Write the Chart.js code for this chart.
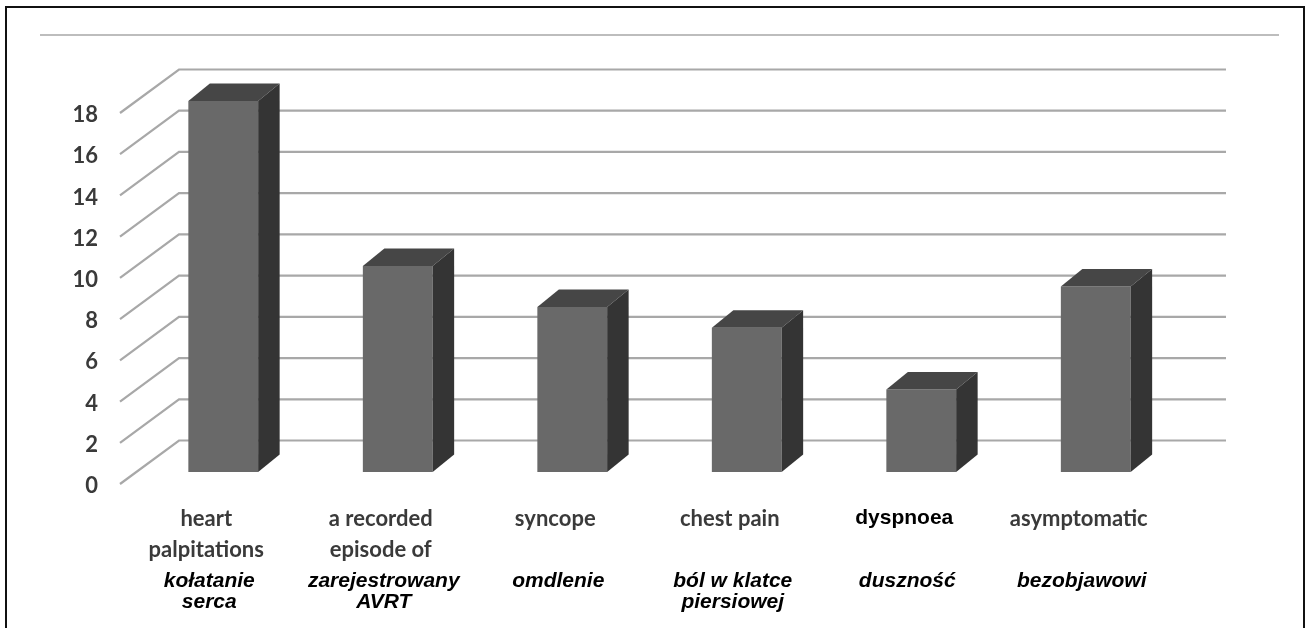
<!DOCTYPE html>
<html>
<head>
<meta charset="utf-8">
<script src="https://cdn.jsdelivr.net/npm/chart.js@4.4.1/dist/chart.umd.min.js"></script>
<style>
    html, body { margin: 0; padding: 0; background: #fff; }
    #wrap { width: 1310px; height: 628px; }
</style>
</head>
<body>
<div id="wrap"><canvas id="symptomsChart" width="1310" height="628"></canvas></div>
<script>
// Objawy pacjentów - wykres słupkowy 3D

const categoriesEn = [['heart', 'palpitations'], ['a recorded', 'episode of'], 'syncope', 'chest pain', 'dyspnoea', 'asymptomatic'];
const categoriesPl = [['kołatanie', 'serca'], ['zarejestrowany', 'AVRT'], 'omdlenie', ['ból w klatce', 'piersiowej'], 'duszność', 'bezobjawowi'];
const patientCounts = [18, 10, 8, 7, 4, 9];
const yTicks = [0, 2, 4, 6, 8, 10, 12, 14, 16, 18];

// przesunięcia perspektywy (px)
const WALL_DX = 43, WALL_DY = -31.5;   // tylna ściana
const FRONT_DX = -16, FRONT_DY = 12;   // przednia krawędź osi Y
const BAR_DX = 21.5, BAR_DY = -17.5;   // głębokość słupka

const wallPlugin = {
    id: 'wall3d',
    beforeDraw: function (chart) {
        const { ctx, width, height } = chart;
        ctx.save();
        ctx.fillStyle = '#ffffff';
        ctx.fillRect(0, 0, width, height);

        // ramka
        ctx.strokeStyle = '#111111';
        ctx.lineWidth = 2;
        ctx.beginPath();
        ctx.moveTo(6, height + 5);
        ctx.lineTo(6, 7);
        ctx.lineTo(1304, 7);
        ctx.lineTo(1304, height + 5);
        ctx.stroke();

        // górna linia
        ctx.strokeStyle = '#bdbdbd';
        ctx.beginPath();
        ctx.moveTo(40, 35);
        ctx.lineTo(1279, 35);
        ctx.stroke();
        ctx.restore();
    },
    beforeDatasetsDraw: function (chart) {
        const { ctx, chartArea, scales: { y } } = chart;
        ctx.save();
        ctx.strokeStyle = '#a8a8a8';
        ctx.lineWidth = 2.2;
        y.ticks.forEach(function (t) {
            const py = y.getPixelForValue(t.value);
            ctx.beginPath();
            ctx.moveTo(chartArea.left + FRONT_DX, py + FRONT_DY);
            ctx.lineTo(chartArea.left + WALL_DX, py + WALL_DY);
            ctx.lineTo(chartArea.right + WALL_DX, py + WALL_DY);
            ctx.stroke();
        });
        ctx.restore();
    },
    afterDatasetsDraw: function (chart) {
        const { ctx } = chart;
        const meta = chart.getDatasetMeta(0);
        ctx.save();
        meta.data.forEach(function (bar) {
            const { x, y, base, width } = bar.getProps(['x', 'y', 'base', 'width'], true);
            const l = x - width / 2, r = x + width / 2;

            // góra
            ctx.fillStyle = '#464646';
            ctx.beginPath();
            ctx.moveTo(l, y);
            ctx.lineTo(l + BAR_DX, y + BAR_DY);
            ctx.lineTo(r + BAR_DX, y + BAR_DY);
            ctx.lineTo(r, y);
            ctx.closePath();
            ctx.fill();

            // bok
            ctx.fillStyle = '#343434';
            ctx.beginPath();
            ctx.moveTo(r, y);
            ctx.lineTo(r + BAR_DX, y + BAR_DY);
            ctx.lineTo(r + BAR_DX, base + BAR_DY);
            ctx.lineTo(r, base);
            ctx.closePath();
            ctx.fill();
        });
        ctx.restore();
    }
};

const canvas = document.getElementById('symptomsChart');

new Chart(canvas, {
    type: 'bar',
    data: {
        labels: categoriesEn,
        datasets: [{
            data: patientCounts,
            backgroundColor: '#696969',
            borderWidth: 0,
            barPercentage: 0.4,
            categoryPercentage: 1
        }]
    },
    options: {
        responsive: false,
        animation: false,
        layout: { padding: { left: 0, right: 127, top: 101, bottom: 0 } },
        plugins: {
            legend: { display: false },
            tooltip: { enabled: false }
        },
        scales: {
            x: {
                position: 'bottom',
                weight: 0,
                grid: { display: false },
                border: { display: false },
                ticks: {
                    padding: 23,
                    labelOffset: -17,
                    maxRotation: 0,
                    autoSkip: false,
                    color: function (c) { return c.index === 4 ? '#000000' : '#3a3a3a'; },
                    font: function (c) {
                        return c.index === 4
                            ? { family: 'Liberation Sans', size: 21, weight: 'bold', lineHeight: 1.45 }
                            : { family: 'Lato', size: 22, weight: 'bold', lineHeight: 1.42 };
                    }
                },
                afterFit: function (s) { s.height = 89; }
            },
            x2: {
                type: 'category',
                labels: categoriesPl,
                position: 'bottom',
                weight: 1,
                offset: true,
                grid: { display: false },
                border: { display: false },
                ticks: {
                    padding: 2,
                    labelOffset: -14,
                    maxRotation: 0,
                    autoSkip: false,
                    color: '#000000',
                    font: { family: 'Liberation Sans', size: 21, style: 'italic', weight: 'bold', lineHeight: 1.0 }
                },
                afterFit: function (s) { s.height = 67; }
            },
            y: {
                min: 0,
                max: 18,
                grid: { display: false },
                border: { display: false },
                afterBuildTicks: function (s) { s.ticks = yTicks.map(function (v) { return { value: v }; }); },
                ticks: {
                    padding: 30,
                    labelOffset: 14,
                    color: '#3a3a3a',
                    font: { family: 'Lato', size: 22, weight: 'bold' }
                },
                afterFit: function (s) { s.width = 136; }
            }
        }
    },
    plugins: [wallPlugin]
});
</script>
</body>
</html>
